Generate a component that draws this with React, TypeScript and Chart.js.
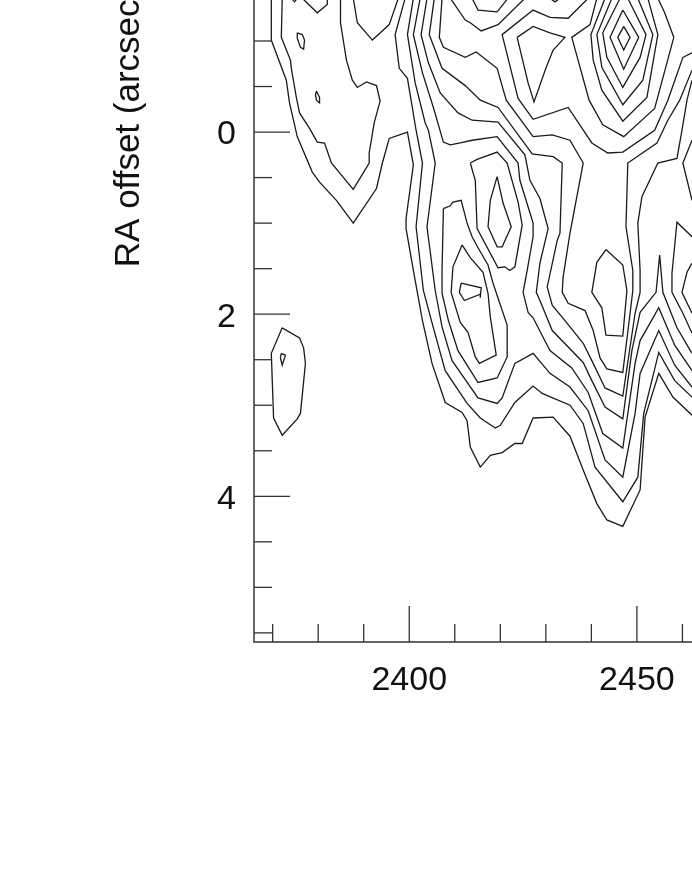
import React, { useEffect, useRef } from "react";
import { Chart, registerables } from "chart.js";

Chart.register(...registerables);

type P = [number, number];

const xLabelTicks = [2400, 2450];
const yLabelTicks = [-4, -2, 0, 2, 4];
const xMinorTicks = [2370, 2380, 2390, 2410, 2420, 2430, 2440, 2460];
const yMinorTicks = [-5.5, -5, -4.5, -3.5, -3, -2.5, -1.5, -1, -0.5, 0.5, 1, 1.5, 2.5, 3, 3.5, 4.5, 5, 5.5];
const yAxisTitle = "RA offset (arcsec)";

const contourA: P[] = [[2369.7,-1.47],[2369.7,-1.01],[2373.0,-0.57],[2373.7,-0.32],[2375.4,0.05],[2378.7,0.44],[2380.3,0.55],[2384.0,0.75],[2387.7,1.0],[2392.8,0.62],[2394.1,0.34],[2395.6,0.07],[2399.6,0],[2400.9,0.36],[2399.3,0.95],[2399.3,1.06],[2400.9,1.52],[2402.9,2.07],[2405.0,2.54],[2407.9,2.97],[2411.6,3.08],[2412.7,3.17],[2413.4,3.46],[2415.6,3.68],[2417.8,3.55],[2420.4,3.52],[2423.2,3.42],[2424.8,3.42],[2427.2,3.14],[2431.6,3.13],[2435.3,3.34],[2438.2,3.71],[2441.2,4.08],[2443.4,4.26],[2446.9,4.33],[2450.7,3.93],[2451.8,3.13],[2454.8,2.65],[2457.9,2.91],[2462.1,3.11]];
const contourB: P[] = [[2372.1,-1.47],[2371.9,-1.04],[2373.9,-0.79],[2374.1,-0.7],[2375.2,-0.38],[2375.9,-0.21],[2378.1,-0.04],[2379.8,0.11],[2381.4,0.12],[2382.9,0.34],[2387.7,0.63],[2391.2,0.34],[2391.2,0.23],[2392.3,-0.1],[2393.6,-0.34],[2392.8,-0.51],[2390.6,-0.55],[2388.6,-0.49],[2387.5,-0.57],[2386.2,-0.79],[2384.9,-1.2],[2384.9,-1.47]];
const contourC: P[] = [[2399.1,-1.47],[2396.9,-1.07],[2397.8,-0.7],[2399.6,-0.59],[2401.5,-0.02],[2402.9,0.34],[2401.5,1.04],[2403.1,1.74],[2405.3,2.15],[2407.9,2.62],[2412.7,2.98],[2415.6,3.14],[2418.9,3.25],[2420.0,3.22],[2423.2,2.97],[2427.2,2.79],[2429.2,2.87],[2435.3,3.0],[2438.2,3.2],[2440.8,3.68],[2446.9,4.06],[2450.2,3.79],[2451.5,3.09],[2454.8,2.42],[2458.3,2.73],[2462.1,2.91]];
const contourD: P[] = [[2400.9,-1.47],[2399.6,-1.07],[2401.3,-0.54],[2403.5,-0.1],[2404.2,-0.02],[2405.7,0.34],[2403.9,1.04],[2405.7,1.74],[2407.2,2.14],[2409.4,2.51],[2415.1,2.92],[2419.3,2.98],[2420.4,2.92],[2423.2,2.54],[2427.2,2.43],[2430.9,2.65],[2435.3,2.8],[2439.3,3.06],[2443.0,3.6],[2446.9,3.79],[2449.6,3.09],[2450.7,2.65],[2454.8,2.18],[2458.3,2.56],[2462.1,2.8]];
const contourE: P[] = [[2402.4,-1.47],[2400.9,-1.07],[2402.9,-0.65],[2405.3,-0.27],[2407.5,0.11],[2409.0,0.14],[2411.2,0.12],[2413.8,0.09],[2419.3,0.05],[2423.9,0.34],[2424.3,0.53],[2427.2,1.0],[2427.2,1.15],[2425.9,1.52],[2425.0,1.76],[2426.1,1.98],[2427.2,2.04],[2430.9,2.4],[2435.7,2.59],[2439.3,2.86],[2442.5,3.31],[2446.9,3.47],[2449.6,2.54],[2450.7,2.29],[2454.8,1.93],[2458.3,2.34],[2462.1,2.62]];
const contourF: P[] = [[2403.9,-1.47],[2402.6,-1.07],[2404.2,-0.76],[2406.8,-0.43],[2410.7,-0.21],[2413.8,-0.13],[2419.5,-0.11],[2425.4,0.25],[2426.5,0.53],[2428.7,0.73],[2430.5,1.06],[2428.7,1.44],[2427.9,1.76],[2428.7,1.85],[2431.4,2.18],[2438.2,2.53],[2440.1,2.73],[2443.0,3.02],[2446.9,3.15],[2448.9,2.4],[2450.7,1.98],[2454.2,1.76],[2455.0,1.35],[2455.7,1.76],[2458.8,2.15],[2462.1,2.43]];
const contourG: P[] = [[2405.5,-1.47],[2404.4,-1.07],[2407.2,-0.7],[2412.3,-0.51],[2415.6,-0.35],[2419.5,-0.27],[2427.0,0.24],[2431.6,0.27],[2433.6,0.34],[2433.1,1.11],[2432.5,1.19],[2430.3,1.7],[2431.4,1.9],[2434.2,2.07],[2438.2,2.32],[2440.1,2.51],[2443.0,2.81],[2446.9,2.9],[2449.6,1.99],[2450.7,1.76],[2450.7,1.52],[2450.2,1.0],[2451.1,0.71],[2454.6,0.34],[2458.8,0.29],[2459.9,-0.02],[2461.0,-0.35],[2462.1,-0.57]];
const contourH: P[] = [[2407.2,-1.47],[2406.6,-1.04],[2407.5,-0.93],[2412.3,-0.82],[2414.7,-0.88],[2419.3,-0.7],[2421.3,-0.35],[2427.2,0.05],[2431.4,0.03],[2435.3,0.09],[2438.2,0.34],[2435.3,1.11],[2433.8,1.59],[2433.6,1.76],[2434.9,1.88],[2438.6,1.96],[2440.4,2.18],[2441.9,2.48],[2443.4,2.6],[2446.9,2.64],[2448.5,1.99],[2449.1,1.74],[2449.1,1.52],[2447.6,1.04],[2448.0,0.34],[2454.4,0.12],[2456.8,-0.13],[2459.4,-0.35],[2462.1,-0.68]];
const contourI: P[] = [[2439.3,-1.47],[2434.9,-1.25],[2430.9,-1.26],[2427.2,-1.34],[2420.4,-1.07],[2423.9,-0.37],[2427.2,-0.14],[2434.9,-0.27],[2440.1,0.12],[2443.6,0.23],[2446.9,0.22],[2453.9,-0.02],[2456.8,-0.35],[2460.1,-0.82],[2462.1,-0.87]];
const peakRing6: P[] = [[2441.2,-1.47],[2439.7,-1.18],[2435.7,-1.04],[2439.5,-0.35],[2442.5,-0.08],[2447.1,0.05],[2453.9,-0.26],[2458.1,-1.04],[2456.1,-1.31],[2454.6,-1.47]];
const peakRing5: P[] = [[2443.0,-1.47],[2439.9,-1.07],[2440.4,-0.79],[2442.3,-0.46],[2446.9,-0.12],[2452.2,-0.38],[2454.6,-1.07],[2452.4,-1.47]];
const peakRing4: P[] = [[2444.5,-1.47],[2441.2,-1.07],[2442.3,-0.71],[2446.9,-0.3],[2451.3,-0.57],[2453.5,-1.07],[2450.2,-1.47]];
const peakRing3: P[] = [[2446.3,-1.47],[2442.5,-1.09],[2443.4,-0.82],[2446.9,-0.49],[2450.7,-0.82],[2452.0,-1.07],[2448.0,-1.47]];
const topLeftA: P[] = [[2376.5,-1.47],[2379.8,-1.31],[2382.0,-1.4],[2382.0,-1.47]];
const topLeftB: P[] = [[2374.1,-1.47],[2374.8,-1.43],[2375.4,-1.47]];
const topLeftC: P[] = [[2387.7,-1.47],[2388.6,-1.2],[2391.9,-1.01],[2395.6,-1.18],[2397.6,-1.47]];
const topMidA: P[] = [[2409.0,-1.47],[2412.3,-1.23],[2413.4,-1.2],[2415.8,-1.11],[2419.5,-1.18],[2425.4,-1.47]];
const topMidB: P[] = [[2413.8,-1.47],[2415.1,-1.34],[2419.3,-1.32],[2421.7,-1.47]];
const topMidC: P[] = [[2430.9,-1.47],[2432.0,-1.43],[2433.1,-1.47]];
const edgeA: P[] = [[2462.1,1.15],[2458.8,0.99],[2457.7,1.55],[2457.7,1.76],[2460.1,1.99],[2462.1,2.21]];
const edgeB: P[] = [[2462.1,1.44],[2461.0,1.54],[2459.9,1.76],[2462.1,1.99]];
const edgeC: P[] = [[2462.1,0.09],[2460.1,0.34],[2462.1,0.75]];

const islandA: P[] = [[2375.4,-1.09],[2376.5,-1.07],[2377.0,-1.01],[2376.8,-0.91],[2376.1,-0.93],[2375.4,-1.03]];
const islandB: P[] = [[2379.6,-0.45],[2380.3,-0.38],[2380.3,-0.32],[2379.6,-0.35],[2379.4,-0.41]];
const islandC: P[] = [[2372.1,2.15],[2375.9,2.26],[2376.8,2.37],[2377.2,2.54],[2376.1,3.09],[2375.4,3.15],[2372.1,3.33],[2370.2,3.14],[2369.7,2.43]];
const islandD: P[] = [[2371.9,2.43],[2372.8,2.45],[2372.1,2.56],[2371.7,2.48]];
const peakRing2: P[] = [[2446.9,-1.34],[2450.4,-1.04],[2447.1,-0.69],[2444.1,-1.04]];
const peakRing1: P[] = [[2447.1,-1.16],[2448.5,-1.04],[2447.1,-0.9],[2445.8,-1.04]];
const wedge: P[] = [[2423.7,-1.04],[2427.2,-1.16],[2430.9,-1.09],[2434.2,-1.04],[2431.6,-0.9],[2430.0,-0.7],[2427.4,-0.33],[2426.1,-0.54]];
const lobeUpperOuter: P[] = [[2413.4,0.34],[2414.9,0.3],[2419.3,0.22],[2421.5,0.34],[2423.9,0.77],[2424.8,1.02],[2423.2,1.48],[2422.1,1.52],[2421.0,1.48],[2419.5,1.49],[2414.9,1.06],[2414.5,0.53]];
const lobeUpperInner: P[] = [[2419.3,0.49],[2417.8,0.75],[2417.3,1.04],[2419.3,1.26],[2420.4,1.26],[2422.4,1.04],[2420.6,0.78]];
const lobeLowerOuter: P[] = [[2407.5,0.84],[2409.0,0.81],[2409.6,0.77],[2411.4,0.75],[2412.7,1.0],[2413.8,1.15],[2415.1,1.27],[2417.3,1.46],[2418.4,1.66],[2421.5,2.12],[2421.5,2.47],[2419.3,2.7],[2415.1,2.75],[2410.7,2.4],[2408.6,2.07],[2407.2,1.77],[2407.2,1.52]];
const lobeLowerMid: P[] = [[2411.6,1.24],[2413.4,1.38],[2416.2,1.54],[2417.3,1.77],[2417.8,2.03],[2419.1,2.45],[2415.4,2.54],[2414.5,2.47],[2412.9,2.2],[2411.2,2.09],[2409.2,1.76],[2409.6,1.48]];
const lobeLowerInner: P[] = [[2411.4,1.66],[2411.0,1.76],[2412.1,1.85],[2415.6,1.78],[2415.6,1.82],[2415.8,1.71]];
const lobeRight: P[] = [[2443.2,1.29],[2446.9,1.46],[2447.8,1.74],[2446.9,2.24],[2443.2,2.23],[2442.3,1.93],[2440.1,1.76],[2441.2,1.43]];

const openContours = [contourA, contourB, contourC, contourD, contourE, contourF, contourG, contourH, contourI, peakRing6, peakRing5, peakRing4, peakRing3, topLeftA, topLeftB, topLeftC, topMidA, topMidB, topMidC, edgeA, edgeB, edgeC];
const closedContours = [islandA, islandB, islandC, islandD, peakRing2, peakRing1, wedge, lobeUpperOuter, lobeUpperInner, lobeLowerOuter, lobeLowerMid, lobeLowerInner, lobeRight];

const FONT = '"Liberation Sans", Arial, sans-serif';
const LINE = "#1a1a1a";
const AXIS = "#666666";

const innerTicks = {
  id: "innerTicks",
  afterDatasetsDraw(chart: any) {
    const { ctx, scales, chartArea } = chart;
    const { x, y } = scales;
    const MAJOR = 36;
    const MINOR = 18;
    ctx.save();
    ctx.strokeStyle = "#333333";
    ctx.lineWidth = 1.3;
    const vertical = (v: number, len: number) => {
      const px = x.getPixelForValue(v);
      ctx.beginPath();
      ctx.moveTo(px, chartArea.bottom);
      ctx.lineTo(px, chartArea.bottom - len);
      ctx.stroke();
    };
    const horizontal = (v: number, len: number) => {
      const py = y.getPixelForValue(v);
      ctx.beginPath();
      ctx.moveTo(chartArea.left, py);
      ctx.lineTo(chartArea.left + len, py);
      ctx.stroke();
    };
    xLabelTicks.forEach((v) => vertical(v, MAJOR));
    xMinorTicks.forEach((v) => vertical(v, MINOR));
    yLabelTicks.forEach((v) => horizontal(v, MAJOR));
    yMinorTicks.forEach((v) => horizontal(v, MINOR));
    ctx.restore();
  },
};

export default function App() {
  const ref = useRef<HTMLCanvasElement>(null);
  useEffect(() => {
    const lineStyle = {
      showLine: true,
      borderColor: LINE,
      borderWidth: 1.3,
      pointRadius: 0,
      tension: 0,
      fill: false,
    };
    const toPoints = (c: P[]) => c.map(([x, y]) => ({ x, y }));
    const chart = new Chart(ref.current as HTMLCanvasElement, {
      type: "scatter",
      data: {
        datasets: [
          ...openContours.map((c) => ({ ...lineStyle, data: toPoints(c) })),
          ...closedContours.map((c) => ({ ...lineStyle, data: toPoints([...c, c[0]]) })),
        ],
      },
      options: {
        animation: false,
        responsive: false,
        events: [],
        layout: { padding: { top: 33, left: 0, right: 0, bottom: 0 } },
        plugins: { legend: { display: false }, title: { display: false }, tooltip: { enabled: false } },
        scales: {
          x: {
            type: "linear",
            min: 2365.9,
            max: 2462.1,
            grid: { display: false, drawTicks: false },
            border: { display: true, color: AXIS, width: 2 },
            ticks: {
              font: { family: FONT, size: 34 },
              color: "#111111",
              padding: 18,
              autoSkip: false,
              maxRotation: 0,
              includeBounds: false,
              callback: (v: any) => String(v),
            },
            afterBuildTicks: (s: any) => {
              s.ticks = xLabelTicks.map((value) => ({ value }));
            },
            afterFit: (s: any) => {
              s.height = 254;
              s.paddingLeft = 0;
              s.paddingRight = 0;
            },
          },
          y: {
            type: "linear",
            min: -5.7,
            max: 5.6,
            reverse: true,
            grid: { display: false, drawTicks: false },
            border: { display: true, color: AXIS, width: 2 },
            title: {
              display: true,
              text: yAxisTitle,
              color: "#111111",
              font: { family: FONT, size: 35, weight: "normal" },
              padding: { top: 108, bottom: 0 },
            },
            ticks: {
              font: { family: FONT, size: 34 },
              color: "#111111",
              padding: 18,
              labelOffset: 3,
              autoSkip: false,
              includeBounds: false,
              callback: (v: any) => String(v),
            },
            afterBuildTicks: (s: any) => {
              s.ticks = yLabelTicks.map((value) => ({ value }));
            },
            afterFit: (s: any) => {
              s.width = 254;
              s.paddingTop = 0;
              s.paddingBottom = 0;
            },
          },
        },
      },
      plugins: [innerTicks],
    } as any);
    return () => chart.destroy();
  }, []);
  return (
    <div style={{ position: "absolute", left: 0, top: 0, width: 692, height: 896, overflow: "hidden", background: "#ffffff" }}>
      <canvas ref={ref} width={692} height={1316} style={{ position: "absolute", left: 0, top: -420, width: 692, height: 1316 }} />
    </div>
  );
}
